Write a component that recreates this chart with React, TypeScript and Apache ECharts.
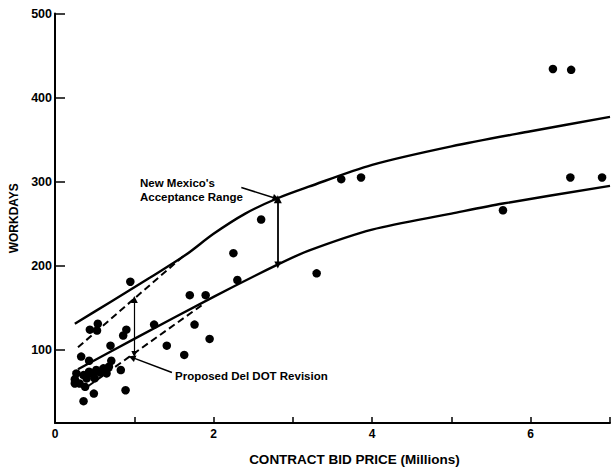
import React, { useEffect, useRef } from "react";
import * as echarts from "echarts";

// Scatter: contract bid price (millions) and workdays
const bidPrice = [
  0.33, 0.43, 0.44, 0.54, 0.53, 0.86, 0.9, 0.7, 0.71, 0.83, 0.89, 0.49, 0.36, 0.95,
  1.25, 1.41, 1.63, 1.76, 1.95, 1.7, 1.9, 2.3, 2.25, 2.6, 3.3, 3.61, 3.86, 5.65,
  6.28, 6.51, 6.5, 6.9,
  0.25, 0.27, 0.31, 0.36, 0.4, 0.43, 0.48, 0.52, 0.57, 0.61, 0.65, 0.5, 0.38, 0.68, 0.25,
];
const workdays = [
  92, 87, 124, 131, 123, 117, 124, 105, 87, 76, 52, 48, 39, 181,
  130, 105, 94, 130, 113, 165, 165, 183, 215, 255, 191, 303, 305, 266,
  434, 433, 305, 305,
  65, 72, 60, 70, 66, 74, 71, 76, 73, 78, 72, 66, 56, 80, 60,
];

// New Mexico acceptance range curves
const upperX = [0.25, 0.7, 1.2, 1.65, 2.0, 2.4, 2.8, 3.2, 4.0, 5.0, 6.0, 7.0];
const upperY = [131, 157, 186, 213, 238, 262, 280, 294, 320, 342, 360, 377];
const lowerX = [0.29, 1.0, 2.0, 2.8, 3.2, 4.0, 5.0, 5.65, 7.0];
const lowerY = [77, 113, 163, 201, 218, 243, 262, 274, 295];

// Proposed Del DOT revision (dashed)
const delUpperX = [0.29, 1.65];
const delUpperY = [103, 214];
const delLowerX = [0.42, 1.88];
const delLowerY = [57, 155];

const xTicks = [0, 1, 2, 3, 4, 5, 6, 7];
const yTicks = [100, 200, 300, 400, 500];

const zip = (a: number[], b: number[]) => a.map((v, i) => [v, b[i]]);

const FONT = '"Liberation Sans", Arial, Helvetica, sans-serif';
const vArrow = "path://M0,10 L5,0 L10,10";

export default function App() {
  const ref = useRef<HTMLDivElement>(null);
  useEffect(() => {
    if (!ref.current) return;
    const chart = echarts.init(ref.current, null, { renderer: "svg" });
    chart.setOption({
      animation: false,
      backgroundColor: "#fff",
      textStyle: { fontFamily: FONT },
      grid: { left: 55, top: 13.5, width: 560, bottom: 45, show: false },
      xAxis: {
        type: "value",
        min: 0,
        max: 7,
        interval: 1,
        axisLine: { show: true, lineStyle: { color: "#000", width: 2 } },
        axisTick: { show: true, inside: true, length: 6, lineStyle: { color: "#000", width: 1.5 }, customValues: xTicks.slice(1) },
        axisLabel: {
          color: "#000",
          fontFamily: FONT,
          fontWeight: "bold",
          fontSize: 12,
          margin: 5,
          formatter: (v: number) => (v % 2 === 0 ? String(v) : ""),
        },
        splitLine: { show: false },
        name: "CONTRACT BID PRICE (Millions)",
        nameLocation: "middle",
        nameGap: 29,
        nameTextStyle: { color: "#000", fontFamily: FONT, fontWeight: "bold", fontSize: 13.5, padding: [0, 0, 0, 44] },
      },
      yAxis: {
        type: "value",
        min: 13,
        max: 500,
        axisLine: { show: true, onZero: false, lineStyle: { color: "#000", width: 2 } },
        axisTick: { show: true, inside: true, length: 10, lineStyle: { color: "#000", width: 1.5 }, customValues: yTicks },
        axisLabel: {
          color: "#000",
          fontFamily: FONT,
          fontWeight: "bold",
          fontSize: 12.5,
          margin: 3,
          customValues: yTicks,
        },
        splitLine: { show: false },
        name: "WORKDAYS",
        nameLocation: "middle",
        nameGap: 32,
        nameTextStyle: { color: "#000", fontFamily: FONT, fontWeight: "bold", fontSize: 12 },
      },
      series: [
        {
          type: "line",
          data: zip(upperX, upperY),
          smooth: 0.3,
          showSymbol: false,
          lineStyle: { color: "#000", width: 2.4 },
        },
        {
          type: "line",
          data: zip(lowerX, lowerY),
          smooth: 0.3,
          showSymbol: false,
          lineStyle: { color: "#000", width: 2.4 },
        },
        {
          type: "line",
          data: zip(delUpperX, delUpperY),
          showSymbol: false,
          lineStyle: { color: "#000", width: 2, type: [7, 4] },
        },
        {
          type: "line",
          data: zip(delLowerX, delLowerY),
          showSymbol: false,
          lineStyle: { color: "#000", width: 2, type: [7, 4] },
        },
        {
          type: "lines",
          coordinateSystem: "cartesian2d",
          symbol: [vArrow, vArrow],
          symbolSize: [7, 8],
          lineStyle: { color: "#000", width: 1.8, opacity: 1 },
          data: [{ coords: [[2.81, 201], [2.81, 279]] }],
        },
        {
          type: "lines",
          coordinateSystem: "cartesian2d",
          symbol: [vArrow, vArrow],
          symbolSize: [6, 7],
          lineStyle: { color: "#000", width: 1.2, opacity: 1 },
          data: [{ coords: [[1.0, 95], [1.0, 160]] }],
        },
        {
          type: "lines",
          coordinateSystem: "cartesian2d",
          symbol: ["none", vArrow],
          symbolSize: [6, 7],
          lineStyle: { color: "#000", width: 1.5, opacity: 1 },
          data: [
            { coords: [[2.35, 293], [2.79, 280]] },
            { coords: [[1.475, 73], [0.97, 91]] },
          ],
        },
        {
          type: "scatter",
          data: zip(bidPrice, workdays),
          symbolSize: 8.5,
          itemStyle: { color: "#000", opacity: 1 },
          z: 5,
        },
      ],
      graphic: [
        {
          type: "text",
          left: 140,
          top: 176,
          style: { text: "New Mexico's\nAcceptance Range", fill: "#000", font: `bold 11.5px ${FONT}`, lineHeight: 14 },
        },
        {
          type: "text",
          left: 175,
          top: 370,
          style: { text: "Proposed Del DOT Revision", fill: "#000", font: `bold 11.5px ${FONT}` },
        },
      ],
    });
    return () => chart.dispose();
  }, []);
  return <div ref={ref} style={{ position: "fixed", left: 0, top: 0, width: 613, height: 471 }} />;
}
